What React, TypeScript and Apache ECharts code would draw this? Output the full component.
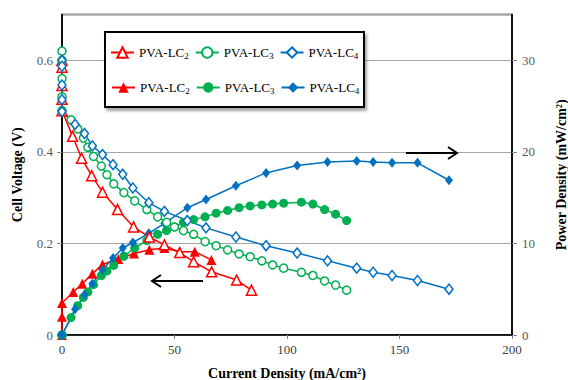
import React, { useEffect, useRef } from "react";
import * as echarts from "echarts";

// ---- Data ----
const lc2PolX = [0, 0, 0, 0, 0, 4.7, 8.7, 13.2, 18, 24.7, 31.8, 38.8, 45.5, 52.3, 58.5, 66.5, 77.6, 84.2];
const lc2PolV = [0.6, 0.585, 0.545, 0.515, 0.49, 0.434, 0.386, 0.348, 0.312, 0.274, 0.236, 0.214, 0.197, 0.18, 0.16, 0.138, 0.12, 0.098];

const lc2PowX = [0, 0, 0, 5, 9, 13.5, 18, 25, 32, 38.8, 45.5, 52.3, 59, 66.4];
const lc2PowP = [0, 2.0, 3.5, 4.7, 5.6, 6.7, 7.7, 8.3, 8.9, 9.3, 9.5, 9.1, 9.1, 8.2];

const lc3X = [0, 0, 0, 0, 0, 4, 7, 9.5, 11.5, 14, 17.5, 20, 23, 27.5, 32.3, 37.7, 42.5, 46.5, 50, 54, 58.5, 63.6, 68.5, 73.6, 78.7, 83.6, 88.8, 93.6, 98.5, 106.4, 111.5, 116.7, 121.6, 126.5];
const lc3V = [0.62, 0.6, 0.56, 0.52, 0.49, 0.47, 0.45, 0.43, 0.41, 0.39, 0.369, 0.35, 0.33, 0.311, 0.293, 0.274, 0.258, 0.246, 0.236, 0.228, 0.22, 0.204, 0.195, 0.186, 0.177, 0.171, 0.162, 0.153, 0.146, 0.137, 0.13, 0.118, 0.109, 0.098];
const lc3P = [0, 0, 0, 0, 0, 1.9, 3.2, 4.1, 4.7, 5.5, 6.5, 7.0, 7.6, 8.6, 9.5, 10.3, 11.0, 11.4, 11.8, 12.3, 12.6, 12.9, 13.3, 13.6, 13.9, 14.1, 14.2, 14.3, 14.4, 14.5, 14.3, 13.7, 13.2, 12.5];

const lc4X = [0, 0, 0, 0, 0, 5.8, 10, 13.5, 18, 22.7, 27, 31.5, 38.6, 45.5, 55.7, 64, 77.3, 90.7, 104.5, 118, 131, 138.3, 146.7, 158, 172];
const lc4V = [0.6, 0.587, 0.546, 0.514, 0.488, 0.46, 0.44, 0.413, 0.394, 0.372, 0.351, 0.321, 0.289, 0.27, 0.25, 0.234, 0.214, 0.195, 0.179, 0.162, 0.146, 0.137, 0.13, 0.119, 0.1];
const lc4P = [0, 0, 0, 0, 0, 2.8, 4.4, 5.6, 7.1, 8.4, 9.5, 10.1, 11.1, 12.2, 13.9, 14.8, 16.3, 17.7, 18.5, 18.9, 19.0, 18.9, 18.8, 18.8, 16.9];

const xTicks = [0, 50, 100, 150, 200];
const voltageTicks = [0, 0.2, 0.4, 0.6];
const powerTicks = [0, 10, 20, 30];

const polNames = ["PVA-LC2", "PVA-LC3", "PVA-LC4"];
const powNames = ["PVA-LC2 ", "PVA-LC3 ", "PVA-LC4 "];

const RED = "#FF0000";
const GREEN = "#00B050";
const BLUE = "#0070C0";
const FONT = "Liberation Serif";

const zip = (xs: number[], ys: number[]) => xs.map((x, i) => [x, ys[i]]);

export default function App() {
  const ref = useRef<HTMLDivElement>(null);

  useEffect(() => {
    if (!ref.current) return;
    document.body.style.margin = "0";
    const chart = echarts.init(ref.current, undefined, { renderer: "svg", width: 568, height: 380 });

    const openSeries = (name: string, xs: number[], ys: number[], color: string, symbol: string, size: any) => ({
      name,
      type: "line",
      yAxisIndex: 0,
      data: zip(xs, ys),
      symbol,
      symbolSize: size,
      showSymbol: true,
      clip: false,
      lineStyle: { color, width: 1.5 },
      itemStyle: { color: "#FFFFFF", borderColor: color, borderWidth: 1.5 },
      emphasis: { disabled: true },
    });
    const filledSeries = (name: string, xs: number[], ys: number[], color: string, symbol: string, size: any) => ({
      name,
      type: "line",
      yAxisIndex: 1,
      data: zip(xs, ys),
      symbol,
      symbolSize: size,
      showSymbol: true,
      clip: false,
      lineStyle: { color, width: 1.5 },
      itemStyle: { color, borderColor: color, borderWidth: 0 },
      emphasis: { disabled: true },
    });

    const legendFormatter = (name: string) => {
      const t = name.trim();
      return `{a|${t.slice(0, 6)}}{b|${t.slice(6)}}`;
    };
    const legendText = {
      fontFamily: FONT,
      color: "#000",
      rich: {
        a: { fontFamily: FONT, fontSize: 13, lineHeight: 16, color: "#000" },
        b: { fontFamily: FONT, fontSize: 9, lineHeight: 8, verticalAlign: "bottom", color: "#000" },
      },
    };

    const legendBase = {
      z: 5,
      padding: 0,
      itemGap: 6,
      itemWidth: 23,
      itemHeight: 13,
      formatter: legendFormatter,
      textStyle: legendText,
      selectedMode: false,
    };

    const option: any = {
      animation: false,
      backgroundColor: "#FFFFFF",
      textStyle: { fontFamily: FONT },
      grid: {
        left: 62,
        right: 56,
        top: 14.5,
        bottom: 45,
        containLabel: false,
        outerBoundsMode: "none",
        show: true,
        borderColor: "#000000",
        borderWidth: 1.5,
        backgroundColor: "transparent",
      },
      graphic: [
        {
          type: "rect",
          z: 3,
          shape: { x: 105, y: 32, width: 259, height: 75 },
          style: {
            fill: "#FFFFFF",
            stroke: "#000000",
            lineWidth: 2,
            shadowBlur: 3,
            shadowOffsetX: 2,
            shadowOffsetY: 3,
            shadowColor: "rgba(0,0,0,0.35)",
          },
        },
        {
          type: "line",
          z: 3,
          shape: { x1: 203, y1: 281, x2: 152, y2: 281 },
          style: { stroke: "#000", lineWidth: 2 },
        },
        {
          type: "polyline",
          z: 3,
          shape: { points: [[161, 275], [152, 281], [161, 287]] },
          style: { stroke: "#000", lineWidth: 2, fill: null },
        },
        {
          type: "line",
          z: 3,
          shape: { x1: 406, y1: 153, x2: 457, y2: 153 },
          style: { stroke: "#000", lineWidth: 2 },
        },
        {
          type: "polyline",
          z: 3,
          shape: { points: [[448, 147], [457, 153], [448, 159]] },
          style: { stroke: "#000", lineWidth: 2, fill: null },
        },
      ],
      legend: [
        { ...legendBase, data: polNames, left: 110, top: 46 },
        { ...legendBase, data: powNames, left: 111, top: 81 },
      ],
      xAxis: {
        type: "value",
        min: xTicks[0],
        max: xTicks[xTicks.length - 1],
        interval: 50,
        name: "Current Density (mA/cm²)",
        nameLocation: "middle",
        nameGap: 31,
        nameTextStyle: { fontFamily: FONT, fontSize: 14, fontWeight: "bold", color: "#000" },
        axisLine: { show: true, lineStyle: { color: "#000", width: 1.5 } },
        axisTick: { show: true, length: 4, lineStyle: { color: "#888" } },
        axisLabel: { fontFamily: FONT, fontSize: 13, color: "#404040", margin: 8 },
        splitLine: { show: false },
      },
      yAxis: [
        {
          type: "value",
          position: "left",
          min: voltageTicks[0],
          max: 0.7,
          interval: 0.2,
          name: "Cell Voltage (V)",
          nameLocation: "middle",
          nameRotate: 90,
          nameGap: 38,
          nameTextStyle: { fontFamily: FONT, fontSize: 14, fontWeight: "bold", color: "#000" },
          axisLine: { show: true, lineStyle: { color: "#000", width: 1.5 } },
          axisTick: { show: true, length: 5, lineStyle: { color: "#888" } },
          axisLabel: {
            fontFamily: FONT,
            fontSize: 13,
            color: "#595959",
            margin: 9,
            showMaxLabel: false,
            formatter: (v: number) => (voltageTicks.includes(Math.round(v * 10) / 10) ? String(Math.round(v * 10) / 10) : ""),
          },
          splitLine: { show: true, lineStyle: { color: "#A6A6A6", width: 1.2 } },
        },
        {
          type: "value",
          position: "right",
          min: powerTicks[0],
          max: 35,
          interval: 10,
          name: "Power Density (mW/cm²)",
          nameLocation: "middle",
          nameRotate: 90,
          nameGap: 42,
          nameTextStyle: { fontFamily: FONT, fontSize: 14, fontWeight: "bold", color: "#000" },
          axisLine: { show: true, lineStyle: { color: "#000", width: 1.5 } },
          axisTick: { show: true, length: 5, lineStyle: { color: "#888" } },
          axisLabel: {
            fontFamily: FONT,
            fontSize: 13,
            color: "#595959",
            margin: 10,
            showMaxLabel: false,
            formatter: (v: number) => (powerTicks.includes(v) ? String(v) : ""),
          },
          splitLine: { show: false },
        },
      ],
      series: [
        filledSeries(powNames[0], lc2PowX, lc2PowP, RED, "triangle", 10),
        filledSeries(powNames[1], lc3X, lc3P, GREEN, "circle", 9),
        filledSeries(powNames[2], lc4X, lc4P, BLUE, "diamond", [8, 10]),
        openSeries(polNames[0], lc2PolX, lc2PolV, RED, "triangle", 10),
        openSeries(polNames[1], lc3X, lc3V, GREEN, "circle", 8),
        openSeries(polNames[2], lc4X, lc4V, BLUE, "diamond", [8, 10]),
      ],
    };

    chart.setOption(option);
    return () => chart.dispose();
  }, []);

  return <div ref={ref} style={{ width: 568, height: 380, background: "#fff" }} />;
}
